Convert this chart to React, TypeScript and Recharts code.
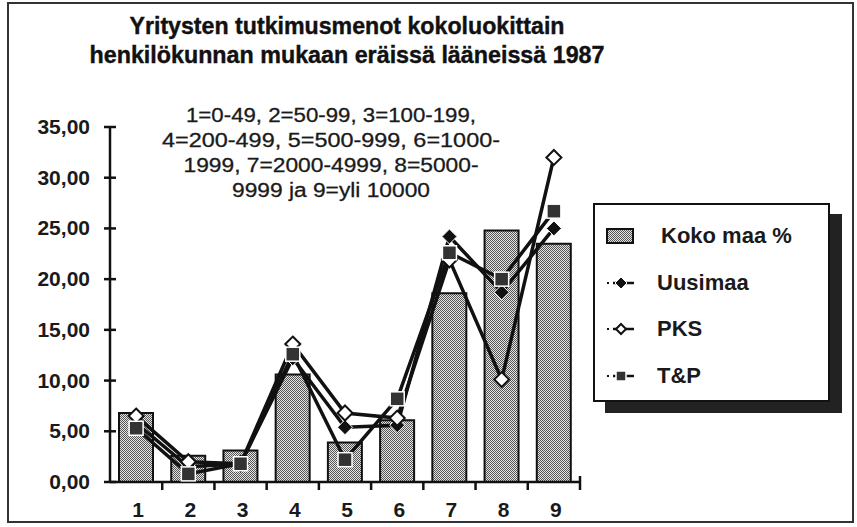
import React from "react";
import {
  ComposedChart,
  Bar,
  Line,
  XAxis,
  YAxis,
  Legend,
} from "recharts";

// kokoluokat 1-9
const categories = ["1", "2", "3", "4", "5", "6", "7", "8", "9"];
const kokoMaa = [6.8, 2.6, 3.1, 10.6, 3.9, 6.1, 18.6, 24.8, 23.5];
const uusimaa = [5.8, 1.5, 1.8, 12.2, 5.4, 5.6, 24.2, 18.7, 25.0];
const pks = [6.5, 2.0, 1.8, 13.6, 6.8, 6.3, 21.9, 10.1, 32.0];
const tp = [5.3, 0.8, 1.8, 12.6, 2.2, 8.2, 22.6, 20.0, 26.7];
const yTicks = [0, 5, 10, 15, 20, 25, 30, 35];

const titleLines = [
  "Yritysten tutkimusmenot kokoluokittain",
  "henkilökunnan mukaan eräissä lääneissä  1987",
];
const noteLines = [
  "1=0-49, 2=50-99, 3=100-199,",
  "4=200-499, 5=500-999, 6=1000-",
  "1999, 7=2000-4999, 8=5000-",
  "9999 ja 9=yli 10000",
];

const data = categories.map((c, i) => ({
  name: c,
  koko: kokoMaa[i],
  uusimaa: uusimaa[i],
  pks: pks[i],
  tp: tp[i],
}));

const W = 857;
const H = 527;
const M = { top: 127, right: 277, left: 0, bottom: 0 };
const Y_AXIS_W = 110;
const X_AXIS_H = 45;
const PLOT_W = W - M.left - M.right - Y_AXIS_W;
const BAND = PLOT_W / categories.length;

const fmt = (v: number) => v.toFixed(2).replace(".", ",");

const FilledDiamond = ({ cx, cy, r = 7.5 }: any) => (
  <path
    d={`M${cx},${cy - r}L${cx + r},${cy}L${cx},${cy + r}L${cx - r},${cy}Z`}
    fill="#111"
    stroke="#fff"
    strokeWidth={1}
  />
);

const OpenDiamond = ({ cx, cy, r = 7.5 }: any) => (
  <path
    d={`M${cx},${cy - r}L${cx + r},${cy}L${cx},${cy + r}L${cx - r},${cy}Z`}
    fill="#fff"
    stroke="#111"
    strokeWidth={2}
  />
);

const Square = ({ cx, cy, s = 7 }: any) => (
  <rect
    x={cx - s}
    y={cy - s}
    width={s * 2}
    height={s * 2}
    fill="#333"
    stroke="#fff"
    strokeWidth={1.5}
  />
);

const YTick = ({ x, y, payload }: any) => (
  <g>
    <line x1={x - 6} x2={x + 6} y1={y} y2={y} stroke="#111" strokeWidth={2.5} />
    <text
      x={x - 20}
      y={y}
      dy={7}
      textAnchor="end"
      fontFamily="'Liberation Sans', Arial, sans-serif"
      fontWeight="bold"
      fontSize={21}
      fill="#1a1a1a"
    >
      {fmt(payload.value)}
    </text>
  </g>
);

const XTick = ({ x, y, payload }: any) => {
  const bx = x + BAND / 2;
  const last = payload.index === categories.length - 1;
  return (
    <g>
      <line
        x1={bx}
        x2={bx}
        y1={last ? y - 6 : y}
        y2={y + 8}
        stroke="#111"
        strokeWidth={2.5}
      />
      <text
        x={x + 2}
        y={y + 35}
        textAnchor="middle"
        fontFamily="'Liberation Sans', Arial, sans-serif"
        fontWeight="bold"
        fontSize={21}
        fill="#1a1a1a"
      >
        {payload.value}
      </text>
    </g>
  );
};

const legendItems = [
  { label: "Koko maa %", kind: "bar" },
  { label: "Uusimaa", kind: "filled" },
  { label: "PKS", kind: "open" },
  { label: "T&P", kind: "square" },
];

const LegendBox = () => (
  <div
    style={{
      width: 233,
      height: 195,
      border: "2px solid #111",
      background: "#fff",
      boxShadow: "12px 11px 0 #222",
      fontFamily: "'Liberation Sans', Arial, sans-serif",
      fontWeight: "bold",
      fontSize: 22,
      color: "#1a1a1a",
      boxSizing: "content-box",
    }}
  >
    {legendItems.map((it, i) => (
      <div
        key={it.label}
        style={{
          position: "absolute",
          left: 0,
          top: 18 + i * 46.5,
          height: 30,
          display: "flex",
          alignItems: "center",
        }}
      >
        <svg width={60} height={30} style={{ marginLeft: 10 }}>
          {it.kind === "bar" ? (
            <rect x={4} y={8} width={26} height={14} fill="url(#stipple)" stroke="#111" strokeWidth={2} />
          ) : (
            <>
              <rect x={4} y={14} width={2} height={2} fill="#111" />
              <line x1={10} x2={31} y1={15} y2={15} stroke="#111" strokeWidth={2.5} />
              {it.kind === "filled" && <FilledDiamond cx={18} cy={15} r={6} />}
              {it.kind === "open" && <OpenDiamond cx={18} cy={15} r={5} />}
              {it.kind === "square" && <Square cx={18} cy={15} s={5} />}
            </>
          )}
        </svg>
        <span style={{ marginLeft: it.kind === "bar" ? -2 : -6 }}>{it.label}</span>
      </div>
    ))}
  </div>
);

export default function App() {
  return (
    <div
      style={{
        position: "absolute",
        left: 0,
        top: 0,
        width: W,
        height: H,
        background: "#fff",
      }}
    >
      <ComposedChart width={W} height={H} data={data} margin={M}>
        <defs>
          <pattern id="stipple" width={2} height={2} patternUnits="userSpaceOnUse">
            <rect width={2} height={2} fill="#e4e4e4" />
            <rect x={0} y={0} width={1} height={1} fill="#555" />
            <rect x={1} y={1} width={1} height={1} fill="#555" />
          </pattern>
        </defs>
        <XAxis
          dataKey="name"
          height={X_AXIS_H}
          axisLine={{ stroke: "#111", strokeWidth: 2.5 }}
          tickLine={false}
          tickSize={0}
          tickMargin={0}
          tick={<XTick />}
          interval={0}
        />
        <YAxis
          width={Y_AXIS_W}
          domain={[0, 35]}
          ticks={yTicks}
          axisLine={{ stroke: "#111", strokeWidth: 2.5 }}
          tickLine={false}
          tickSize={0}
          tickMargin={0}
          tick={<YTick />}
        />
        <Legend
          layout="horizontal"
          verticalAlign="middle"
          align="center"
          wrapperStyle={{ left: 593, top: 203, width: 237, height: 199 }}
          content={() => <LegendBox />}
        />
        <Bar
          dataKey="koko"
          name="Koko maa %"
          barSize={34}
          fill="url(#stipple)"
          stroke="#111"
          strokeWidth={2}
          isAnimationActive={false}
        />
        <Line
          dataKey="uusimaa"
          name="Uusimaa"
          stroke="#111"
          strokeWidth={3.5}
          dot={(p: any) => <FilledDiamond key={`u${p.index}`} cx={p.cx} cy={p.cy} />}
          isAnimationActive={false}
        />
        <Line
          dataKey="pks"
          name="PKS"
          stroke="#111"
          strokeWidth={3.5}
          dot={(p: any) => <OpenDiamond key={`p${p.index}`} cx={p.cx} cy={p.cy} />}
          isAnimationActive={false}
        />
        <Line
          dataKey="tp"
          name="T&P"
          stroke="#111"
          strokeWidth={3.5}
          dot={(p: any) => <Square key={`t${p.index}`} cx={p.cx} cy={p.cy} />}
          isAnimationActive={false}
        />
      </ComposedChart>
      <svg
        width={W}
        height={H}
        style={{ position: "absolute", left: 0, top: 0, pointerEvents: "none" }}
      >
        <rect x={8} y={3} width={845} height={519} fill="none" stroke="#333" strokeWidth={2} />
        {titleLines.map((t, i) => (
          <text
            key={t}
            x={347}
            y={34 + i * 29}
            textAnchor="middle"
            textLength={i === 0 ? 435 : 515}
            lengthAdjust="spacingAndGlyphs"
            fontFamily="'Liberation Sans Narrow', 'Liberation Sans', Arial, sans-serif"
            fontWeight="bold"
            fontSize={23}
            fill="#111"
            stroke="#111"
            strokeWidth={0.4}
          >
            {t}
          </text>
        ))}
        {noteLines.map((t, i) => (
          <text
            key={t}
            x={331}
            y={122 + i * 25}
            textAnchor="middle"
            textLength={[290, 338, 295, 198][i]}
            lengthAdjust="spacingAndGlyphs"
            fontFamily="'Liberation Sans', Arial, sans-serif"
            fontSize={20}
            fill="#1a1a1a"
            stroke="#1a1a1a"
            strokeWidth={0.3}
          >
            {t}
          </text>
        ))}
      </svg>
    </div>
  );
}
